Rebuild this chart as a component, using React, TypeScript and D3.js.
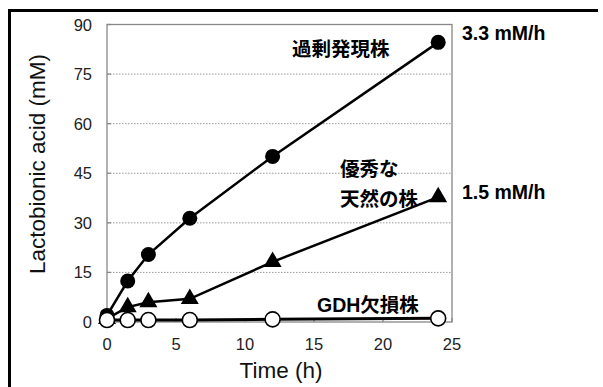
import React, { useRef, useEffect } from 'react';
import * as d3 from 'd3';

// time points (h)
const times = [0, 1.5, 3, 6, 12, 24];
// lactobionic acid (mM) per strain
const overValues = [2.0, 12.4, 20.4, 31.4, 50.1, 84.6];
const wildValues = [1.0, 4.5, 6.0, 7.0, 18.2, 37.8];
const gdhValues = [0.6, 0.6, 0.6, 0.6, 0.8, 1.1];

const xTicks = [0, 5, 10, 15, 20, 25];
const yTicks = [0, 15, 30, 45, 60, 75, 90];

const rateLabels = ['3.3 mM/h', '1.5 mM/h'];
const strainLabels = ['過剰発現株', '優秀な', '天然の株', 'GDH欠損株'];

const W = 603;
const H = 387;
const font = "'Liberation Sans', Arial, 'Noto Sans CJK JP', sans-serif";

const App = () => {
    const svgRef = useRef<SVGSVGElement>(null);

    useEffect(() => {
        const svg = d3.select(svgRef.current);
        svg.selectAll('*').remove();

        const x = d3.scaleLinear().domain([0, 25]).range([107, 452]);
        const y = d3.scaleLinear().domain([0, 90]).range([322, 24.5]);

        // outer frame (top and left only are visible)
        svg.append('line').attr('x1', 8).attr('x2', 598).attr('y1', 10.5).attr('y2', 10.5)
            .attr('stroke', '#000').attr('stroke-width', 3);
        svg.append('line').attr('x1', 9.5).attr('x2', 9.5).attr('y1', 9).attr('y2', H)
            .attr('stroke', '#000').attr('stroke-width', 3);

        // grid
        svg.append('g').selectAll('line')
            .data(yTicks.filter(t => t > 0 && t < 90))
            .enter().append('line')
            .attr('x1', x(0)).attr('x2', x(25))
            .attr('y1', d => y(d)).attr('y2', d => y(d))
            .attr('stroke', '#999').attr('stroke-width', 1)
            .attr('stroke-dasharray', '1.5,1.5');

        // plot box
        svg.append('rect')
            .attr('x', x(0)).attr('y', y(90))
            .attr('width', x(25) - x(0)).attr('height', y(0) - y(90))
            .attr('fill', 'none').attr('stroke', '#888').attr('stroke-width', 1.3);

        // ticks (inward)
        svg.append('g').selectAll('line').data(yTicks).enter().append('line')
            .attr('x1', x(0)).attr('x2', x(0) + 4)
            .attr('y1', d => y(d)).attr('y2', d => y(d))
            .attr('stroke', '#888').attr('stroke-width', 1.3);
        svg.append('g').selectAll('line').data(xTicks).enter().append('line')
            .attr('x1', d => x(d)).attr('x2', d => x(d))
            .attr('y1', y(0)).attr('y2', y(0) - 4)
            .attr('stroke', '#888').attr('stroke-width', 1.3);

        // tick labels
        svg.append('g').selectAll('text').data(yTicks).enter().append('text')
            .attr('x', 92).attr('y', d => y(d) + 6)
            .attr('text-anchor', 'end')
            .style('font-family', font).style('font-size', '16.5px').attr('fill', '#222')
            .text(d => d);
        svg.append('g').selectAll('text').data(xTicks).enter().append('text')
            .attr('x', d => x(d)).attr('y', 350)
            .attr('text-anchor', 'middle')
            .style('font-family', font).style('font-size', '16.5px').attr('fill', '#222')
            .text(d => d);

        // axis titles
        svg.append('text')
            .attr('transform', `translate(45, 164) rotate(-90)`)
            .attr('text-anchor', 'middle')
            .style('font-family', font).style('font-size', '22.5px').attr('fill', '#111')
            .text('Lactobionic acid (mM)');
        svg.append('text')
            .attr('x', 281).attr('y', 378)
            .attr('text-anchor', 'middle')
            .style('font-family', font).style('font-size', '22.5px').attr('fill', '#111')
            .text('Time (h)');

        const line = d3.line<number>()
            .x((_, i) => x(times[i]))
            .y(d => y(d));

        // overexpression strain
        svg.append('path').datum(overValues).attr('d', line)
            .attr('fill', 'none').attr('stroke', '#000').attr('stroke-width', 2.5);
        svg.append('g').selectAll('circle').data(overValues).enter().append('circle')
            .attr('cx', (_, i) => x(times[i])).attr('cy', d => y(d)).attr('r', 7.5)
            .attr('fill', '#000');

        // wild strain
        svg.append('path').datum(wildValues).attr('d', line)
            .attr('fill', 'none').attr('stroke', '#000').attr('stroke-width', 2.5);
        const tri = d3.symbol().type(d3.symbolTriangle).size(140);
        svg.append('g').selectAll('path').data(wildValues).enter().append('path')
            .attr('d', tri)
            .attr('transform', (d, i) => `translate(${x(times[i])},${y(d)})`)
            .attr('fill', '#000');

        // GDH deletion strain
        svg.append('path').datum(gdhValues).attr('d', line)
            .attr('fill', 'none').attr('stroke', '#000').attr('stroke-width', 3);
        svg.append('g').selectAll('circle').data(gdhValues).enter().append('circle')
            .attr('cx', (_, i) => x(times[i])).attr('cy', d => y(d)).attr('r', 7.5)
            .attr('fill', '#fff').attr('stroke', '#000').attr('stroke-width', 1.6);

        // annotations
        const bold = (tx: number, ty: number, s: string, size = 19.5) =>
            svg.append('text').attr('x', tx).attr('y', ty)
                .style('font-family', font).style('font-size', `${size}px`)
                .style('font-weight', 'bold').attr('fill', '#000').text(s);

        bold(462, 40, rateLabels[0], 19.5);
        bold(462, 199, rateLabels[1], 19.5);
        bold(292, 56, strainLabels[0]);
        bold(340, 176, strainLabels[1]);
        bold(340, 206, strainLabels[2]);
        bold(317, 312, strainLabels[3]);
    }, []);

    return (
        <svg ref={svgRef} width={W} height={H}
            style={{ position: 'absolute', left: 0, top: 0, background: '#fff', display: 'block' }} />
    );
};

export default App;
